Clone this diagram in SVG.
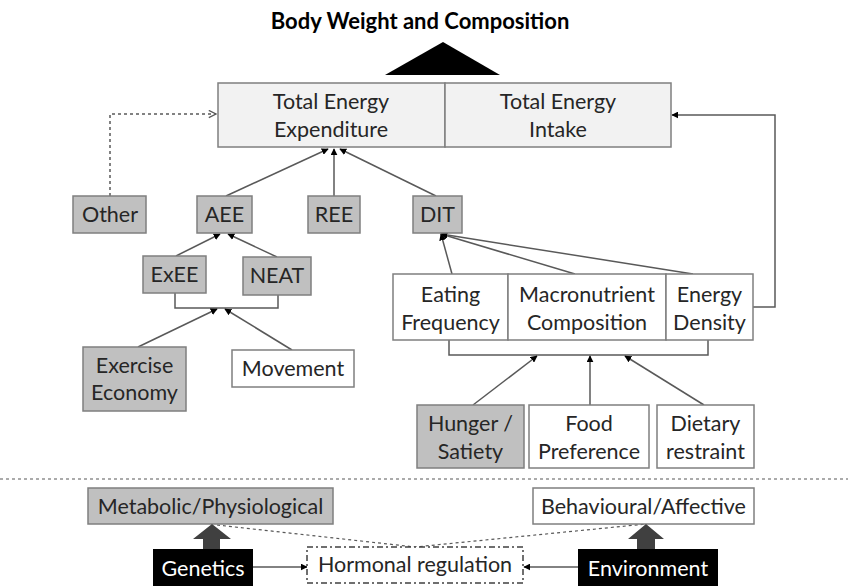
<svg xmlns="http://www.w3.org/2000/svg" width="848" height="586" viewBox="0 0 848 586">
<style>
  .t{font-family:Lato,"Open Sans","Liberation Sans",sans-serif;font-size:21.5px;fill:#262626;text-anchor:middle}
  .w{fill:#fff}
  .g{fill:#c0c0c0;stroke:#7f7f7f;stroke-width:1.5}
  .l{fill:#f2f2f2;stroke:#7f7f7f;stroke-width:1.5}
  .p{fill:#fff;stroke:#7f7f7f;stroke-width:1.5}
  .k{fill:#000}
  .c{fill:none;stroke:#595959;stroke-width:1.5}
  .d{fill:none;stroke:#595959;stroke-width:1.5;stroke-dasharray:3 3}
</style>
<defs>
  <marker id="ah" viewBox="0 0 10 10" refX="9" refY="5" markerWidth="7" markerHeight="7" markerUnits="userSpaceOnUse" orient="auto">
    <path d="M0,0 L10,5 L0,10 z" fill="#000"/>
  </marker>
  <marker id="oh" viewBox="0 0 10 10" refX="9" refY="5" markerWidth="9" markerHeight="9" markerUnits="userSpaceOnUse" orient="auto">
    <path d="M1,1 L9,5 L1,9" fill="none" stroke="#595959" stroke-width="1.5"/>
  </marker>
</defs>

<text x="420" y="29" class="t" style="font-size:22px;font-weight:bold;fill:#000">Body Weight and Composition</text>
<polygon points="385,75 500,75 443,42" fill="#000"/>

<g id="connectors">
  <path class="d" d="M110,196 V114 H216" marker-end="url(#oh)"/>
  <path class="c" d="M226,196 L328,149" marker-end="url(#ah)"/>
  <path class="c" d="M334,196 V149" marker-end="url(#ah)"/>
  <path class="c" d="M436,196 L340,149" marker-end="url(#ah)"/>
  <path class="c" d="M176,256 L220,234" marker-end="url(#ah)"/>
  <path class="c" d="M277,257 L228,234" marker-end="url(#ah)"/>
  <path class="c" d="M175,293 V308 H278 V295"/>
  <path class="c" d="M138,347 L217,309" marker-end="url(#ah)"/>
  <path class="c" d="M292,350 L225,309" marker-end="url(#ah)"/>
  <path class="c" d="M452,274 L441,234" marker-end="url(#ah)"/>
  <path class="c" d="M575,274 L441,234" marker-end="url(#ah)"/>
  <path class="c" d="M693,274 L441,234" marker-end="url(#ah)"/>
  <path class="c" d="M753,307 H775 V115 H672" marker-end="url(#ah)"/>
  <path class="c" d="M449,340 V355 H708 V340"/>
  <path class="c" d="M473,405 L537,356" marker-end="url(#ah)"/>
  <path class="c" d="M590,405 V356" marker-end="url(#ah)"/>
  <path class="c" d="M704,405 L625,356" marker-end="url(#ah)"/>
  <path class="c" d="M253,567 H307" marker-end="url(#ah)"/>
  <path class="c" d="M578,567 H524" marker-end="url(#ah)"/>
  <path class="d" d="M217,525 L415,547 L646,524" style="stroke-width:1.2"/>
  <path d="M0,479 H848" fill="none" stroke="#595959" stroke-width="1.2" stroke-dasharray="3 3"/>
</g>

<g id="tee">
  <rect x="218" y="83" width="227" height="64" class="l"/>
  <text x="331" y="109" class="t">Total Energy</text>
  <text x="331" y="137" class="t">Expenditure</text>
</g>
<g id="tei">
  <rect x="445" y="83" width="226" height="64" class="l"/>
  <text x="558" y="109" class="t">Total Energy</text>
  <text x="558" y="137" class="t">Intake</text>
</g>
<g id="other"><rect x="73" y="196" width="73" height="37" class="g"/><text x="110" y="222" class="t">Other</text></g>
<g id="aee"><rect x="197" y="196" width="55" height="37" class="g"/><text x="224.5" y="222" class="t">AEE</text></g>
<g id="ree"><rect x="308" y="196" width="52" height="37" class="g"/><text x="334" y="222" class="t">REE</text></g>
<g id="dit"><rect x="413" y="196" width="49" height="37" class="g"/><text x="437.5" y="222" class="t">DIT</text></g>
<g id="exee"><rect x="143" y="256" width="63" height="37" class="g"/><text x="174.5" y="282" class="t">ExEE</text></g>
<g id="neat"><rect x="243" y="257" width="68" height="38" class="g"/><text x="277" y="283" class="t">NEAT</text></g>
<g id="execo"><rect x="83" y="347" width="103" height="64" class="g"/><text x="134.5" y="373" class="t">Exercise</text><text x="134.5" y="400" class="t">Economy</text></g>
<g id="movement"><rect x="232" y="350" width="122" height="37" class="p"/><text x="293" y="376" class="t">Movement</text></g>
<g id="eatfreq"><rect x="393" y="274" width="115" height="66" class="p"/><text x="450.5" y="302" class="t">Eating</text><text x="450.5" y="330" class="t">Frequency</text></g>
<g id="macro"><rect x="508" y="274" width="158" height="66" class="p"/><text x="587" y="302" class="t">Macronutrient</text><text x="587" y="330" class="t">Composition</text></g>
<g id="endens"><rect x="666" y="274" width="87" height="66" class="p"/><text x="709.5" y="302" class="t">Energy</text><text x="709.5" y="330" class="t">Density</text></g>
<g id="hunger"><rect x="417" y="405" width="107" height="63" class="g"/><text x="470.5" y="431" class="t">Hunger /</text><text x="470.5" y="459" class="t">Satiety</text></g>
<g id="foodpref"><rect x="529" y="405" width="120" height="63" class="p"/><text x="589" y="431" class="t">Food</text><text x="589" y="459" class="t">Preference</text></g>
<g id="dietary"><rect x="657" y="405" width="97" height="63" class="p"/><text x="705.5" y="431" class="t">Dietary</text><text x="705.5" y="459" class="t">restraint</text></g>
<g id="metabolic"><rect x="88" y="488" width="245" height="36" class="g"/><text x="210.5" y="514" class="t">Metabolic/Physiological</text></g>
<g id="behavioural"><rect x="533" y="488" width="221" height="36" class="p"/><text x="643.5" y="514" class="t">Behavioural/Affective</text></g>
<g id="genetics">
  <polygon points="203,550 203,539 193,539 212,524 231,539 220,539 220,550" fill="#404040"/>
  <rect x="153" y="549" width="100" height="37" class="k"/>
  <text x="203" y="576" class="t w">Genetics</text>
</g>
<g id="environment">
  <polygon points="637,550 637,539 628,539 646,524 664,539 655,539 655,550" fill="#404040"/>
  <rect x="578" y="549" width="140" height="37" class="k"/>
  <text x="648" y="576" class="t w">Environment</text>
</g>
<g id="hormonal">
  <rect x="307" y="547" width="216" height="36" fill="#fff" stroke="#404040" stroke-width="1.5" stroke-dasharray="6 3 2 3"/>
  <text x="415" y="572" class="t">Hormonal regulation</text>
</g>
</svg>
